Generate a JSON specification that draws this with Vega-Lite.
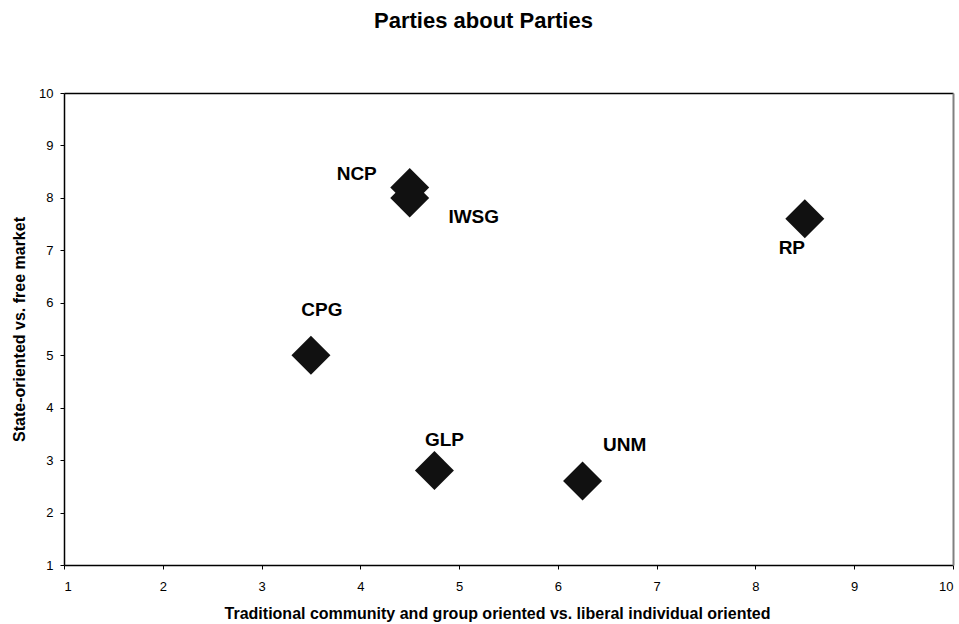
{
  "$schema": "https://vega.github.io/schema/vega-lite/v6.json",
  "width": 889,
  "height": 472,
  "autosize": {"type": "none"},
  "padding": {"left": 64, "top": 93, "right": 6, "bottom": 59},
  "background": "white",
  "config": {
    "view": {"stroke": null},
    "font": "Liberation Sans",
    "axis": {"grid": false, "domainColor": "black", "domainWidth": 1.5, "tickColor": "black", "tickSize": 4, "labelColor": "black", "labelFontSize": 13, "labelFont": "Liberation Sans", "titleFont": "Liberation Sans", "titleFontSize": 16, "titleFontWeight": "bold", "titleColor": "black"}
  },
  "title": {"text": "Parties about Parties", "font": "Liberation Sans", "fontSize": 22, "fontWeight": "bold", "color": "black", "anchor": "middle", "frame": "group", "baseline": "alphabetic", "offset": 37, "dx": -25},
  "data": {"values": [
    {"party": "NCP", "x": 4.5, "y": 8.2},
    {"party": "IWSG", "x": 4.5, "y": 8.0},
    {"party": "CPG", "x": 3.5, "y": 5.0},
    {"party": "GLP", "x": 4.75, "y": 2.8},
    {"party": "UNM", "x": 6.25, "y": 2.6},
    {"party": "RP", "x": 8.5, "y": 7.6}
  ]},
  "resolve": {"axis": {"x": "independent", "y": "independent"}},
  "layer": [
    {
      "mark": {"type": "point", "shape": "diamond", "filled": true, "color": "#111111", "opacity": 1, "size": 1520},
      "encoding": {
        "x": {"field": "x", "type": "quantitative", "scale": {"domain": [1, 10], "nice": false, "zero": false}, "axis": {"orient": "bottom", "values": [1,2,3,4,5,6,7,8,9,10], "labelPadding": 11, "titlePadding": 12, "title": "Traditional community and group oriented vs. liberal individual oriented", "titleX": 433}},
        "y": {"field": "y", "type": "quantitative", "scale": {"domain": [1, 10], "nice": false, "zero": false}, "axis": {"orient": "left", "values": [1,2,3,4,5,6,7,8,9,10], "labelPadding": 7, "titlePadding": 11, "title": "State-oriented vs. free market"}}
      }
    },
    {
      "mark": {"type": "point", "opacity": 0},
      "encoding": {
        "x": {"field": "x", "type": "quantitative", "axis": {"orient": "top", "labels": false, "ticks": false, "title": null, "domainColor": "black"}},
        "y": {"field": "y", "type": "quantitative", "axis": {"orient": "right", "labels": false, "ticks": false, "title": null, "domainColor": "#808080", "domainWidth": 2}}
      }
    },
    {
      "transform": [{"filter": "datum.party === 'NCP'"}],
      "mark": {"type": "text", "fontSize": 19, "fontWeight": "bold", "font": "Liberation Sans", "color": "black", "baseline": "middle", "align": "center", "dx": -53, "dy": -13},
      "encoding": {"x": {"field": "x", "type": "quantitative", "axis": null}, "y": {"field": "y", "type": "quantitative", "axis": null}, "text": {"field": "party"}}
    },
    {
      "transform": [{"filter": "datum.party === 'IWSG'"}],
      "mark": {"type": "text", "fontSize": 19, "fontWeight": "bold", "font": "Liberation Sans", "color": "black", "baseline": "middle", "align": "center", "dx": 64, "dy": 19},
      "encoding": {"x": {"field": "x", "type": "quantitative", "axis": null}, "y": {"field": "y", "type": "quantitative", "axis": null}, "text": {"field": "party"}}
    },
    {
      "transform": [{"filter": "datum.party === 'CPG'"}],
      "mark": {"type": "text", "fontSize": 19, "fontWeight": "bold", "font": "Liberation Sans", "color": "black", "baseline": "middle", "align": "center", "dx": 11, "dy": -45},
      "encoding": {"x": {"field": "x", "type": "quantitative", "axis": null}, "y": {"field": "y", "type": "quantitative", "axis": null}, "text": {"field": "party"}}
    },
    {
      "transform": [{"filter": "datum.party === 'GLP'"}],
      "mark": {"type": "text", "fontSize": 19, "fontWeight": "bold", "font": "Liberation Sans", "color": "black", "baseline": "middle", "align": "center", "dx": 10, "dy": -31},
      "encoding": {"x": {"field": "x", "type": "quantitative", "axis": null}, "y": {"field": "y", "type": "quantitative", "axis": null}, "text": {"field": "party"}}
    },
    {
      "transform": [{"filter": "datum.party === 'UNM'"}],
      "mark": {"type": "text", "fontSize": 19, "fontWeight": "bold", "font": "Liberation Sans", "color": "black", "baseline": "middle", "align": "center", "dx": 42, "dy": -36},
      "encoding": {"x": {"field": "x", "type": "quantitative", "axis": null}, "y": {"field": "y", "type": "quantitative", "axis": null}, "text": {"field": "party"}}
    },
    {
      "transform": [{"filter": "datum.party === 'RP'"}],
      "mark": {"type": "text", "fontSize": 19, "fontWeight": "bold", "font": "Liberation Sans", "color": "black", "baseline": "middle", "align": "center", "dx": -13, "dy": 29},
      "encoding": {"x": {"field": "x", "type": "quantitative", "axis": null}, "y": {"field": "y", "type": "quantitative", "axis": null}, "text": {"field": "party"}}
    }
  ]
}
